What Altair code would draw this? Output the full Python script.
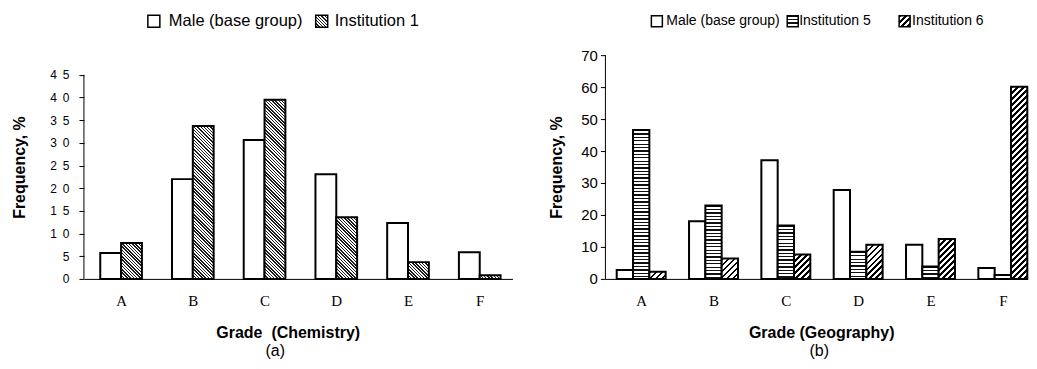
import json
import altair as alt
import pandas as pd

# ---------------- data ----------------
grades = ["A", "B", "C", "D", "E", "F"]

chem_series = ["Male (base group)", "Institution 1"]
chem_male = [5.7, 22.0, 30.6, 23.1, 12.3, 5.9]
chem_inst1 = [7.9, 33.7, 39.5, 13.6, 3.7, 0.8]
chem_ticks = [0, 5, 10, 15, 20, 25, 30, 35, 40, 45]

geo_series = ["Male (base group)", "Institution 5", "Institution 6"]
geo_male = [2.8, 18.0, 37.1, 27.8, 10.7, 3.4]
geo_inst5 = [46.6, 23.0, 16.7, 8.5, 3.9, 1.2]
geo_inst6 = [2.2, 6.4, 7.6, 10.7, 12.5, 60.1]
geo_ticks = [0, 10, 20, 30, 40, 50, 60, 70]

SANS = "Liberation Sans"
SERIF = "Liberation Serif"
H = 224


# ---------------- hatch fills (SVG linear gradients) ----------------
def stripe_stops(extent, period, frac, dark, light="#ffffff"):
    """Stripes with an exact pixel period along a gradient spanning `extent` px."""
    p = period / extent
    out = []
    i = 0
    while i * p < 1:
        a = i * p
        b = min(a + frac * p, 1.0)
        c = min((i + 1) * p, 1.0)
        out += [
            alt.GradientStop(color=dark, offset=round(a, 6)),
            alt.GradientStop(color=dark, offset=round(b, 6)),
            alt.GradientStop(color=light, offset=round(b, 6)),
            alt.GradientStop(color=light, offset=round(c, 6)),
        ]
        i += 1
    return out


def hatch_h(h, period, frac, dark):
    return alt.LinearGradient(gradient="linear", x1=0, y1=0, x2=0, y2=1,
                              stops=stripe_stops(h, period, frac, dark))


def hatch_d(w, h, period, frac, dark, kind):
    k = (w + h) / (w * w + h * h)
    if kind == "/":
        x1, y1, x2, y2 = 0, 0, w * k, h * k
    else:
        x1, y1, x2, y2 = 0, 1, w * k, 1 - h * k
    return alt.LinearGradient(gradient="linear", x1=x1, y1=y1, x2=x2, y2=y2,
                              stops=stripe_stops(w + h, period, frac, dark))


HATCH = {
    "Institution 1": lambda w, h: hatch_d(w, h, 3.25, 0.45, "#1a1a1a", "\\"),
    "Institution 5": lambda w, h: hatch_h(h, 3.4, 0.4, "#111111"),
    "Institution 6": lambda w, h: hatch_d(w, h, 6.0, 0.45, "#000000", "/"),
}


def legend_layers(items, size, y_top, font_size):
    layers = []
    for label, x_sq, x_txt in items:
        d = pd.DataFrame({"label": [label]})
        fill = "white" if label not in HATCH else HATCH[label](size, size)
        layers.append(
            alt.Chart(d).mark_rect(fill=fill, stroke="black", strokeWidth=1.5).encode(
                x=alt.value(x_sq), x2=alt.value(x_sq + size),
                y=alt.value(y_top), y2=alt.value(y_top + size))
        )
        layers.append(
            alt.Chart(d).mark_text(align="left", baseline="middle", font=SANS,
                                   fontSize=font_size, color="black").encode(
                x=alt.value(x_txt), y=alt.value(y_top + size / 2), text="label:N")
        )
    return layers


def panel(series, values, W, step_px, first_center_px, group_px, ymax, axis_top, yticks,
          xtitle, title_x, ylab_size, ylab_pad, ytitle_pad, ylabel_expr, legend,
          panel_title, title_dx):
    rows = []
    for si, (s, vals) in enumerate(zip(series, values)):
        for gi, (g, v) in enumerate(zip(grades, vals)):
            rows.append({"grade": g, "gi": gi, "series": s, "si": si, "value": v})
    df = pd.DataFrame(rows)

    # x scale in "grade index" units
    xmin = -first_center_px / step_px
    xmax = xmin + W / step_px
    gw = group_px / step_px
    bw = gw / len(series)
    bar_px = bw * step_px
    px_per = H / ymax

    yaxis = alt.Axis(values=yticks, grid=False, tickSize=5, tickColor="black",
                     domain=False, labelFont=SANS, labelFontSize=ylab_size,
                     labelColor="black", labelPadding=ylab_pad, title="Frequency, %",
                     titleFont=SANS, titleFontSize=16, titleFontWeight="bold",
                     titleColor="black", titlePadding=ytitle_pad, labelExpr=ylabel_expr)
    yscale = alt.Scale(domain=[0, ymax], nice=False, padding=0)
    xaxis = alt.Axis(title=xtitle, values=list(range(len(grades))), grid=False,
                     ticks=False, tickSize=0, domainColor="black",
                     labelExpr=f"{json.dumps(grades)}[datum.value]",
                     labelFont=SERIF, labelFontSize=15, labelColor="black",
                     labelPadding=15, labelFlush=False, titleFont=SANS,
                     titleFontSize=16, titleFontWeight="bold", titleColor="black",
                     titlePadding=16, titleX=title_x)
    xscale = alt.Scale(domain=[xmin, xmax], nice=False, zero=False, padding=0)

    base = alt.Chart(df).transform_calculate(
        x0=f"datum.gi - {gw / 2} + datum.si * {bw}",
        x1=f"datum.gi - {gw / 2} + (datum.si + 1) * {bw}",
    ).encode(
        x=alt.X("x0:Q", scale=xscale, axis=xaxis),
        x2="x1:Q",
        y=alt.Y("value:Q", scale=yscale, axis=yaxis),
        y2=alt.Y2Datum(0),
    )

    # vertical axis line, running from 0 up to the top tick only
    axis_line = alt.Chart(pd.DataFrame({"lo": [0], "hi": [axis_top]})).mark_rule(
        color="black", strokeWidth=1).encode(
        x=alt.value(0), y=alt.Y("lo:Q", scale=yscale, axis=yaxis), y2="hi:Q")

    layers = [
        axis_line,
        base.transform_filter(alt.datum.series == series[0]).mark_bar(
            fill="white", stroke="black", strokeWidth=2),
    ]
    for s, vals in zip(series[1:], values[1:]):
        for g, v in zip(grades, vals):
            grad = HATCH[s](bar_px, v * px_per)
            layers.append(
                base.transform_filter((alt.datum.series == s) & (alt.datum.grade == g))
                .mark_bar(fill=grad, stroke="black", strokeWidth=2)
            )
    layers += legend
    return alt.layer(*layers).properties(
        width=W, height=H,
        title=alt.TitleParams(panel_title, orient="bottom", font=SANS, fontSize=16,
                              fontWeight="normal", color="black", frame="group",
                              anchor="middle", dx=title_dx, offset=2),
    )


spaced = ("length(datum.label) == 2 ? substring(datum.label, 0, 1) + '\u2002' + "
          "substring(datum.label, 1, 2) : datum.label")

chart_a = panel(
    chem_series, [chem_male, chem_inst1], W=429, step_px=71.8, first_center_px=37.2,
    group_px=41.7, ymax=H / 4.54, axis_top=45, yticks=chem_ticks,
    xtitle="Grade\u00a0 (Chemistry)", title_x=204,
    ylab_size=12, ylab_pad=10, ytitle_pad=22, ylabel_expr=spaced,
    legend=legend_layers([(chem_series[0], 64, 85), (chem_series[1], 232, 251)],
                         size=12, y_top=-40, font_size=16.5),
    panel_title="(a)", title_dx=-23,
)

chart_b = panel(
    geo_series, [geo_male, geo_inst5, geo_inst6], W=422, step_px=72.4, first_center_px=35.8,
    group_px=49.0, ymax=70, axis_top=70, yticks=geo_ticks,
    xtitle="Grade (Geography)", title_x=216,
    ylab_size=15, ylab_pad=3, ytitle_pad=16, ylabel_expr="datum.label",
    legend=legend_layers([(geo_series[0], 46, 61), (geo_series[1], 182, 194),
                          (geo_series[2], 294, 307)],
                         size=11, y_top=-39.5, font_size=14),
    panel_title="(b)", title_dx=3,
)

chart = alt.hconcat(chart_a, chart_b, spacing=36).properties(
    padding={"left": 3, "top": 5, "right": 0, "bottom": 0},
    background="white",
).configure_view(stroke=None)

chart.save("out.html", embed_options={"renderer": "svg", "actions": False})
